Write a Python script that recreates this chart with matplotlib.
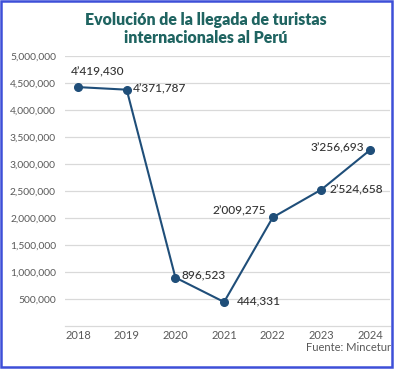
import matplotlib.pyplot as plt
from matplotlib.patches import Rectangle

years = ['2018', '2019', '2020', '2021', '2022', '2023', '2024']
arrivals = [4419430, 4371787, 896523, 444331, 2009275, 2524658, 3256693]
labels = ["4’419,430", "4’371,787", "896,523", "444,331", "2’009,275", "2’524,658", "3’256,693"]
yticks = [500000, 1000000, 1500000, 2000000, 2500000, 3000000, 3500000, 4000000, 4500000, 5000000]

# label offsets in pixels (dx, dy, ha)
offsets = [(-7, 15, 'left'), (6, 1, 'left'), (6, 3, 'left'), (13, 1, 'left'),
           (-7, 6, 'right'), (8, 0, 'left'), (-6, 2, 'right')]

plt.rcParams['font.family'] = ['Lato', 'DejaVu Sans']

fig = plt.figure(figsize=(3.95, 3.69), dpi=100)
ax = fig.add_axes([0.1646, 0.1165, 0.823, 0.7325])

xs = list(range(len(years)))
ax.plot(xs, arrivals, color='#1f4e79', lw=1.5, marker='o', ms=5.5, zorder=3)

for x, y, lab, (dx, dy, ha) in zip(xs, arrivals, labels, offsets):
    ax.annotate(lab, (x, y), xytext=(dx * 0.72, dy * 0.72), textcoords='offset points',
                ha=ha, va='center', fontsize=8.6, color='#333333', fontweight='medium')

ax.set_xlim(-0.267, 6.41)
ax.set_ylim(0, 5000000)
ax.set_xticks(xs, years)
ax.set_yticks(yticks, [f'{v:,}' for v in yticks])
ax.tick_params(axis='both', length=0, labelcolor='#595959')
ax.tick_params(axis='y', pad=6.5, labelsize=7.4)
ax.tick_params(axis='x', pad=3, labelsize=8)
ax.grid(axis='y', color='#d9d9d9', lw=0.9)
ax.set_axisbelow(True)
for side in ['top', 'right', 'left']:
    ax.spines[side].set_visible(False)
ax.spines['bottom'].set_color('#d9d9d9')
ax.spines['bottom'].set_linewidth(0.9)

fig.text(0.522, 0.968, 'Evolución de la llegada de turistas\ninternacionales al Perú',
         ha='center', va='top', fontsize=11.4, fontweight='heavy', color='#1f6461',
         linespacing=1.15)
fig.text(0.99, 0.057, 'Fuente: Mincetur', ha='right', va='center', fontsize=8, color='#595959')

fig.patches.append(Rectangle((0.003, 0.006), 0.990, 0.99, transform=fig.transFigure,
                             fill=False, edgecolor='#3d4fd8', lw=1.8))

fig.savefig('out.png', dpi=100)
